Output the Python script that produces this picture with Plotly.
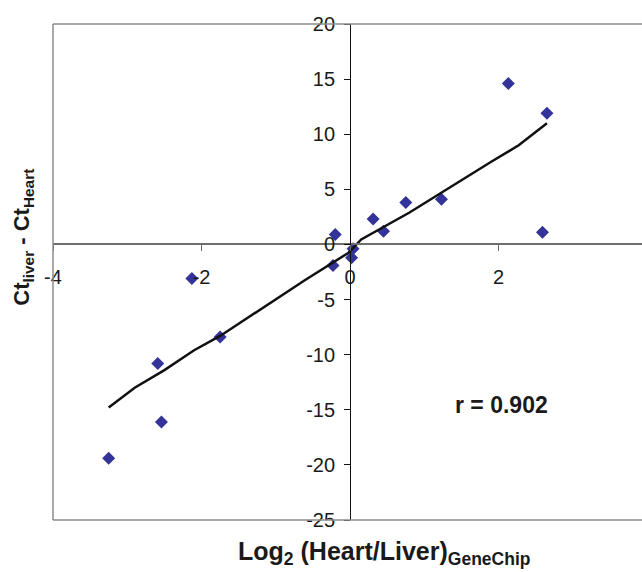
import plotly.graph_objects as go

# Data
x_vals = [-3.25, -2.59, -2.54, -2.13, -1.75, -0.23, -0.20, 0.02, 0.04, 0.31, 0.45, 0.75, 1.23, 2.13, 2.59, 2.65]
y_vals = [-19.4, -10.8, -16.1, -3.1, -8.4, -1.9, 0.9, -1.2, -0.4, 2.3, 1.2, 3.8, 4.1, 14.6, 1.1, 11.9]

trend_x = [-3.25, -2.9, -2.5, -2.1, -1.75, -1.1, -0.6, -0.02, 0.15, 0.8, 1.25, 1.9, 2.27, 2.65]
trend_y = [-14.8, -13.0, -11.4, -9.6, -8.3, -5.4, -3.2, -0.75, 0.45, 2.9, 4.8, 7.5, 9.0, 11.0]

x_ticks = [-4, -2, 0, 2, 4]
y_ticks = [-25, -20, -15, -10, -5, 0, 5, 10, 15, 20]

X_RANGE = [-4, 3.93]
Y_RANGE = [-25, 20]

fig = go.Figure()
fig.add_trace(go.Scatter(
    x=x_vals, y=y_vals, mode="markers",
    marker=dict(symbol="diamond", size=10, color="#333399", line=dict(width=0)),
    cliponaxis=False,
))
fig.add_trace(go.Scatter(
    x=trend_x, y=trend_y, mode="lines",
    line=dict(color="#111111", width=2.5),
))

font_family = "Liberation Sans, Arial, sans-serif"

fig.update_layout(
    width=642, height=572,
    margin=dict(l=53, r=0, t=24, b=52),
    plot_bgcolor="white", paper_bgcolor="white",
    showlegend=False,
    font=dict(family=font_family, size=20, color="#1a1a1a"),
    xaxis=dict(
        range=X_RANGE, showgrid=False, zeroline=False,
        tickvals=x_ticks, ticktext=[str(v) for v in x_ticks],
        showline=True, linecolor="#6e6e6e", linewidth=1.5,
        ticks="outside", ticklen=6, tickcolor="#6e6e6e", tickwidth=1,
        anchor="free",
        position=(0 - Y_RANGE[0]) / (Y_RANGE[1] - Y_RANGE[0]),
        ticklabelstandoff=9,
    ),
    yaxis=dict(
        range=Y_RANGE, showgrid=False, zeroline=False,
        tickvals=y_ticks, ticktext=[str(v) for v in y_ticks],
        showline=True, linecolor="#111111", linewidth=1,
        ticks="outside", ticklen=6, tickcolor="#111111", tickwidth=1,
        anchor="free",
        position=(0 - X_RANGE[0]) / (X_RANGE[1] - X_RANGE[0]),
        ticklabelstandoff=5,
    ),
    shapes=[
        dict(type="line", xref="paper", yref="paper", x0=0, x1=0, y0=0, y1=1,
             line=dict(color="#8c8c8c", width=1.5)),
        dict(type="line", xref="paper", yref="paper", x0=0, x1=1, y0=1, y1=1,
             line=dict(color="#8c8c8c", width=1.5)),
        dict(type="line", xref="paper", yref="paper", x0=0, x1=1, y0=0, y1=0,
             line=dict(color="#8c8c8c", width=1.5)),
    ],
    annotations=[
        dict(text="<b>Ct<sub>liver</sub> - Ct<sub>Heart</sub></b>", textangle=-90,
             xref="paper", yref="paper", x=-0.051, y=0.571,
             xanchor="center", yanchor="middle", showarrow=False,
             font=dict(size=22, family=font_family, color="#1a1a1a")),
        dict(text="<b>Log<sub>2</sub> (Heart/Liver)<sub>GeneChip</sub></b>",
             xref="paper", yref="paper", x=0.562, y=-0.066,
             xanchor="center", yanchor="middle", showarrow=False,
             font=dict(size=25, family=font_family, color="#1a1a1a")),
        dict(text="<b>r = 0.902</b>", xref="x", yref="y", x=2.04, y=-14.56,
             xanchor="center", yanchor="middle", showarrow=False,
             font=dict(size=23, family=font_family, color="#1a1a1a")),
    ],
)

fig.write_html(
    "out.html",
    config={"displayModeBar": False},
    post_script="document.body.style.margin='0';document.body.style.overflow='hidden';",
)
